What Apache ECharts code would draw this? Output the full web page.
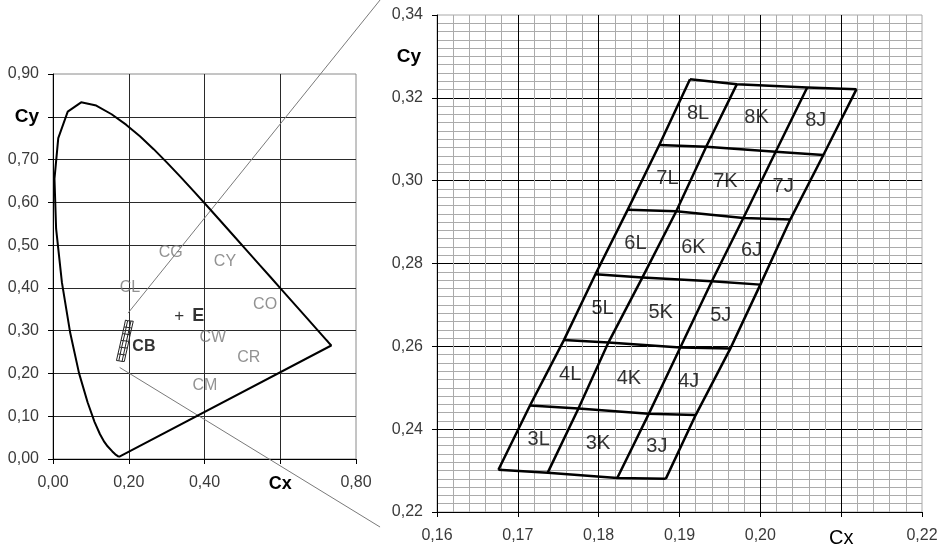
<!DOCTYPE html>
<html>
<head>
<meta charset="utf-8">
<script src="https://cdn.jsdelivr.net/npm/echarts@6/dist/echarts.min.js"></script>
<style>
  html, body { margin: 0; padding: 0; background: #fff; }
  #chart { width: 947px; height: 548px; }
</style>
</head>
<body>
<div id="chart"></div>
<script>
// Spectral locus (CIE 1931 x, y), violet end round to the red end
const locusX = [0.1741, 0.1644, 0.1566, 0.1440, 0.1355, 0.1241, 0.1096, 0.0913, 0.0687, 0.0454,
  0.0235, 0.0082, 0.0039, 0.0139, 0.0389, 0.0743, 0.1142, 0.1547, 0.1929, 0.2296, 0.2658, 0.3016,
  0.3373, 0.3731, 0.4087, 0.4441, 0.4788, 0.5125, 0.5448, 0.5752, 0.6029, 0.6270, 0.6482, 0.6658,
  0.6915, 0.7079, 0.7190, 0.7260, 0.7347];
const locusY = [0.0050, 0.0109, 0.0177, 0.0297, 0.0399, 0.0578, 0.0868, 0.1327, 0.2007, 0.2950,
  0.4127, 0.5384, 0.6548, 0.7502, 0.8120, 0.8338, 0.8262, 0.8059, 0.7816, 0.7543, 0.7243, 0.6923,
  0.6589, 0.6245, 0.5896, 0.5547, 0.5202, 0.4866, 0.4544, 0.4242, 0.3965, 0.3725, 0.3514, 0.3340,
  0.3083, 0.2920, 0.2809, 0.2740, 0.2653];

// Bin boundary corners: one row per boundary line (bottom to top),
// four corners per row (L side, L/K, K/J, J side)
const binCornerX = [
  [0.1676, 0.1737, 0.1823, 0.1883],
  [0.1715, 0.1775, 0.1862, 0.1920],
  [0.1757, 0.1812, 0.1901, 0.1963],
  [0.1796, 0.1854, 0.1940, 0.2000],
  [0.1836, 0.1896, 0.1979, 0.2037],
  [0.1875, 0.1933, 0.2019, 0.2078],
  [0.1913, 0.1971, 0.2058, 0.2119]
];
const binCornerY = [
  [0.2302, 0.2295, 0.2282, 0.2280],
  [0.2457, 0.2450, 0.2437, 0.2434],
  [0.2615, 0.2609, 0.2597, 0.2595],
  [0.2774, 0.2766, 0.2757, 0.2749],
  [0.2930, 0.2926, 0.2910, 0.2906],
  [0.3086, 0.3082, 0.3070, 0.3062],
  [0.3245, 0.3233, 0.3225, 0.3221]
];
const binRows = ['3', '4', '5', '6', '7', '8'];
const binCols = ['L', 'K', 'J'];

// Colour region names on the overview diagram
const regionNames = ['CG', 'CY', 'CL', 'CO', 'CW', 'CR', 'CM'];
const regionX = [0.311, 0.454, 0.203, 0.560, 0.422, 0.517, 0.401];
const regionY = [0.482, 0.461, 0.400, 0.360, 0.283, 0.238, 0.171];
const equalEnergy = [0.3333, 0.3333];
const blueBinName = 'CB';
const blueBinLabelAt = [0.240, 0.262];

// Guide lines from the bin area out towards the enlarged view
const guideUpper = [[0.198, 0.341], [0.8635, 1.073]];
const guideLower = [[0.176, 0.214], [0.8635, -0.159]];

// Tick labels
const overviewXLabels = ['0,00', '0,20', '0,40', 'Cx', '0,80'];
const overviewYLabels = ['0,00', '0,10', '0,20', '0,30', '0,40', '0,50', '0,60', '0,70', 'Cy', '0,90'];
const detailXLabels = ['0,16', '0,17', '0,18', '0,19', '0,20', 'Cx', '0,22'];
const detailYLabels = ['0,22', '0,24', '0,26', '0,28', '0,30', '0,32', '0,34'];
const detailYName = 'Cy';
const detailYNameAt = 0.33;

const FONT = '"Liberation Sans", Arial, sans-serif';

// ---- derived drawing data ----
const locusPoints = locusX.map((x, i) => [x, locusY[i]]);
locusPoints.push(locusPoints[0]); // line of purples closes the curve

const binPolylines = [];
binCornerX.forEach((row, r) => {
  binPolylines.push({ coords: row.map((x, c) => [x, binCornerY[r][c]]) });
});
for (let c = 0; c < 4; c++) {
  binPolylines.push({ coords: binCornerX.map((row, r) => [row[c], binCornerY[r][c]]) });
}

const binLabels = [];
binRows.forEach((rowName, r) => {
  binCols.forEach((colName, c) => {
    const xs = [binCornerX[r][c], binCornerX[r][c + 1], binCornerX[r + 1][c], binCornerX[r + 1][c + 1]];
    const ys = [binCornerY[r][c], binCornerY[r][c + 1], binCornerY[r + 1][c], binCornerY[r + 1][c + 1]];
    binLabels.push({
      name: rowName + colName,
      value: [xs.reduce((a, b) => a + b) / 4, ys.reduce((a, b) => a + b) / 4]
    });
  });
});

const regionPoints = regionNames.map((n, i) => ({ name: n, value: [regionX[i], regionY[i]] }));

function labelFrom(list, min, step) {
  return function (v) {
    const i = Math.round((v - min) / step);
    const t = list[i];
    if (t === 'Cx' || t === 'Cy') return '{b|' + t + '}';
    return t;
  };
}

const tickText = { fontFamily: FONT, fontSize: 16, color: '#3a3a3a' };

const chart = echarts.init(document.getElementById('chart'), null, { renderer: 'canvas' });

chart.setOption({
  animation: false,
  backgroundColor: '#fff',
  grid: [
    { left: 53, top: 74, width: 303, height: 385, show: true, borderColor: '#8a8a8a', borderWidth: 1, backgroundColor: 'transparent' },
    { left: 437, top: 15, width: 485, height: 498, show: true, borderColor: '#a8a8a8', borderWidth: 1, backgroundColor: 'transparent' }
  ],
  xAxis: [
    {
      type: 'value', gridIndex: 0, min: 0, max: 0.8, interval: 0.2,
      axisLine: { show: true, onZero: false, lineStyle: { color: '#000', width: 1 } },
      axisTick: { show: true, length: 5, lineStyle: { color: '#000' } },
      axisLabel: Object.assign({}, tickText, {
        margin: 16, formatter: labelFrom(overviewXLabels, 0, 0.2),
        rich: { b: { fontFamily: FONT, fontSize: 18, fontWeight: 'bold', color: '#000' } }
      }),
      splitLine: { show: true, showMaxLine: false, lineStyle: { color: '#2a2a2a', width: 1 } }
    },
    {
      type: 'value', gridIndex: 1, min: 0.16, max: 0.22, interval: 0.01,
      axisLine: { show: true, onZero: false, lineStyle: { color: '#000', width: 1 } },
      axisTick: { show: true, length: 5, lineStyle: { color: '#000' } },
      axisLabel: Object.assign({}, tickText, {
        margin: 16, formatter: labelFrom(detailXLabels, 0.16, 0.01),
        rich: { b: { fontFamily: FONT, fontSize: 20, color: '#000' } }
      }),
      splitLine: { show: true, showMaxLine: false, lineStyle: { color: '#000', width: 1 } },
      minorTick: { show: false, splitNumber: 5 },
      minorSplitLine: { show: true, lineStyle: { color: '#ababab', width: 1 } }
    }
  ],
  yAxis: [
    {
      type: 'value', gridIndex: 0, min: 0, max: 0.9, interval: 0.1,
      axisLine: { show: true, onZero: false, lineStyle: { color: '#000', width: 1 } },
      axisTick: { show: true, length: 5, lineStyle: { color: '#000' } },
      axisLabel: Object.assign({}, tickText, {
        margin: 14, formatter: labelFrom(overviewYLabels, 0, 0.1),
        rich: { b: { fontFamily: FONT, fontSize: 19, fontWeight: 'bold', color: '#000' } }
      }),
      splitLine: { show: true, showMaxLine: false, lineStyle: { color: '#2a2a2a', width: 1 } }
    },
    {
      type: 'value', gridIndex: 1, min: 0.22, max: 0.34, interval: 0.02,
      axisLine: { show: true, onZero: false, lineStyle: { color: '#000', width: 1 } },
      axisTick: { show: true, length: 5, lineStyle: { color: '#000' } },
      axisLabel: Object.assign({}, tickText, {
        margin: 14, formatter: labelFrom(detailYLabels, 0.22, 0.02)
      }),
      splitLine: { show: true, showMaxLine: false, lineStyle: { color: '#000', width: 1 } },
      minorTick: { show: false, splitNumber: 10 },
      minorSplitLine: { show: true, lineStyle: { color: '#ababab', width: 1 } }
    }
  ],
  series: [
    {
      name: 'locus', type: 'line', xAxisIndex: 0, yAxisIndex: 0,
      data: locusPoints, showSymbol: false, symbol: 'none',
      lineStyle: { color: '#000', width: 2 }, z: 5
    },
    {
      name: 'guides', type: 'lines', coordinateSystem: 'cartesian2d',
      xAxisIndex: 0, yAxisIndex: 0, clip: false,
      data: [{ coords: guideUpper }, { coords: guideLower }],
      lineStyle: { color: '#7a7a7a', width: 1, opacity: 1 }, z: 4
    },
    {
      name: 'bins overview', type: 'lines', coordinateSystem: 'cartesian2d',
      xAxisIndex: 0, yAxisIndex: 0, polyline: true, data: binPolylines,
      lineStyle: { color: '#222', width: 1, opacity: 1 }, z: 6
    },
    {
      name: 'regions', type: 'scatter', xAxisIndex: 0, yAxisIndex: 0,
      data: regionPoints, symbolSize: 0, z: 7,
      label: {
        show: true, position: 'inside', formatter: '{b}',
        fontFamily: FONT, fontSize: 16, color: '#777'
      }
    },
    {
      name: 'E', type: 'scatter', xAxisIndex: 0, yAxisIndex: 0,
      data: [{ name: 'E', value: equalEnergy }], symbolSize: 0, z: 7,
      label: {
        show: true, position: 'inside', align: 'left', verticalAlign: 'middle', offset: [-5, 0],
        formatter: '{p|+}{e|E}',
        rich: {
          p: { fontFamily: FONT, fontSize: 17, color: '#000' },
          e: { fontFamily: FONT, fontSize: 18, fontWeight: 'bold', color: '#000', padding: [0, 0, 0, 8] }
        }
      }
    },
    {
      name: 'CB', type: 'scatter', xAxisIndex: 0, yAxisIndex: 0,
      data: [{ name: blueBinName, value: blueBinLabelAt }], symbolSize: 0, z: 7,
      label: {
        show: true, position: 'inside', formatter: '{b}',
        fontFamily: FONT, fontSize: 16, fontWeight: 'bold', color: '#000'
      }
    },
    {
      name: 'bins', type: 'lines', coordinateSystem: 'cartesian2d',
      xAxisIndex: 1, yAxisIndex: 1, polyline: true, data: binPolylines,
      lineStyle: { color: '#000', width: 2.5, opacity: 1 }, z: 6
    },
    {
      name: 'bin names', type: 'scatter', xAxisIndex: 1, yAxisIndex: 1,
      data: binLabels, symbolSize: 0, z: 7,
      label: {
        show: true, position: 'inside', formatter: '{b}',
        fontFamily: FONT, fontSize: 20, color: '#000'
      }
    }
  ]
});

// Axis title for the enlarged view, set beside its y axis
const yNamePx = chart.convertToPixel({ xAxisIndex: 1, yAxisIndex: 1 }, [0.16, detailYNameAt]);
chart.setOption({
  graphic: [{
    type: 'text', x: yNamePx[0] - 16, y: yNamePx[1],
    style: {
      text: detailYName, font: 'bold 19px ' + FONT, fill: '#000',
      textAlign: 'right', textVerticalAlign: 'middle'
    }
  }]
});
</script>
</body>
</html>
